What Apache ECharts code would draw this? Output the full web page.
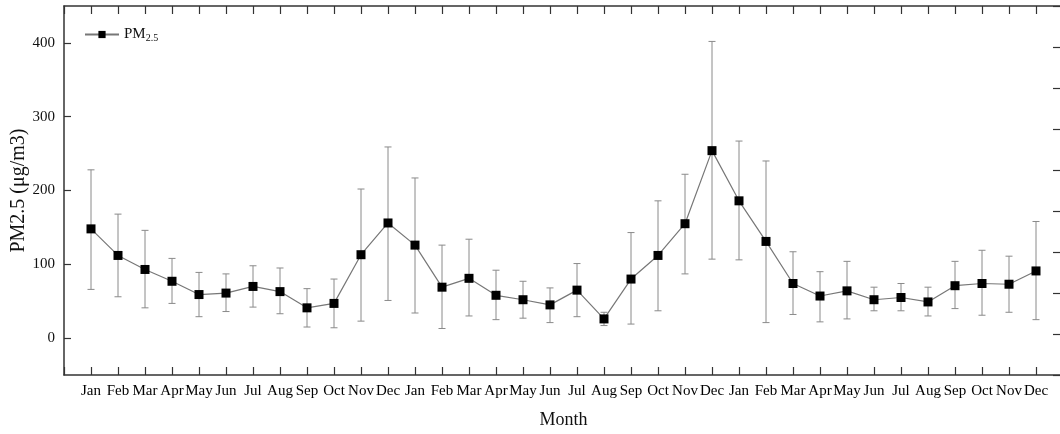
<!DOCTYPE html>
<html><head><meta charset="utf-8">
<script src="https://cdn.jsdelivr.net/npm/echarts@6/dist/echarts.min.js"></script>
<style>html,body{margin:0;padding:0;background:#fff}#c{width:1060px;height:434px}</style>
</head><body><div id="c"></div>
<script>
const months = ['Jan','Feb','Mar','Apr','May','Jun','Jul','Aug','Sep','Oct','Nov','Dec',
  'Jan','Feb','Mar','Apr','May','Jun','Jul','Aug','Sep','Oct','Nov','Dec',
  'Jan','Feb','Mar','Apr','May','Jun','Jul','Aug','Sep','Oct','Nov','Dec'];
const pmMean = [148,112,93,77,59,61,70,63,41,47,113,156,
  126,69,81,58,52,45,65,26,80,112,155,254,
  186,131,74,57,64,52,55,49,71,74,73,91];
const errHigh = [228,168,146,108,89,87,98,95,67,80,202,259,
  217,126,134,92,77,68,101,35,143,186,222,402,
  267,240,117,90,104,69,74,69,104,119,111,158];
const errLow = [66,56,41,47,29,36,42,33,15,14,23,51,
  34,13,30,25,27,21,29,17,19,37,87,107,
  106,21,32,22,26,37,37,30,40,31,35,25];
const yTicks = [0,100,200,300,400];

const font = 'Liberation Serif';
const lineData = pmMean.map((v,i)=>[i,v]);
const errData = pmMean.map((v,i)=>[i,errLow[i],errHigh[i]]);

const chart = echarts.init(document.getElementById('c'));
chart.setOption({
  animation:false,
  textStyle:{fontFamily:font},
  grid:{left:64,right:-3,top:6,bottom:59,outerBoundsMode:'none',containLabel:false},
  legend:{
    left:79, top:22, itemWidth:34, itemHeight:9, itemGap:0,
    data:[{name:'PM2.5'}],
    formatter:()=> 'PM{sub|2.5}',
    textStyle:{fontFamily:font,fontSize:15,color:'#111',
      rich:{sub:{fontFamily:font,fontSize:10,color:'#111',padding:[7,0,0,0]}}}
  },
  xAxis:[{
    type:'value', min:-1, max:36, interval:1, position:'bottom',
    name:'Month', nameLocation:'middle', nameGap:36,
    nameTextStyle:{fontFamily:font,fontSize:18,color:'#111'},
    axisLine:{onZero:false,lineStyle:{color:'#333',width:1.5}},
    axisTick:{inside:true,length:8,lineStyle:{color:'#333',width:1.2}},
    axisLabel:{margin:9,fontFamily:font,fontSize:15,color:'#000',
      formatter:v=> (v>=0 && v<months.length && Number.isInteger(v)) ? months[v] : ''},
    splitLine:{show:false}
  },{
    type:'value', min:-1, max:36, interval:1, position:'top',
    axisLine:{onZero:false,lineStyle:{color:'#333',width:1.5}},
    axisTick:{inside:true,length:8,lineStyle:{color:'#333',width:1.2}},
    axisLabel:{show:false}, splitLine:{show:false}
  }],
  yAxis:[{
    type:'value', min:-50, max:450, splitNumber:5, position:'left',
    name:'PM2.5 (μg/m3)', nameLocation:'middle', nameGap:35, nameMoveOverlap:false,
    nameTextStyle:{fontFamily:font,fontSize:20,color:'#111'},
    axisLine:{show:true,onZero:false,lineStyle:{color:'#333',width:1.5}},
    axisTick:{inside:true,length:7,lineStyle:{color:'#333',width:1.2}},
    axisLabel:{margin:9,fontFamily:font,fontSize:15,color:'#111',
      showMinLabel:false, showMaxLabel:false,
      formatter:v=> yTicks.includes(v) ? String(v) : ''},
    splitLine:{show:false}
  },{
    type:'value', min:-1, max:8, interval:1, position:'right',
    axisLine:{show:true,onZero:false,lineStyle:{color:'#333',width:1.5}},
    axisTick:{inside:true,length:10,lineStyle:{color:'#333',width:1.2}},
    axisLabel:{show:false}, splitLine:{show:false}
  }],
  series:[{
    type:'custom', name:'err', xAxisIndex:0, yAxisIndex:0, z:1,
    renderItem:(params, api)=>{
      const x = api.value(0);
      const lo = api.coord([x, api.value(1)]);
      const hi = api.coord([x, api.value(2)]);
      const cap = 3.5;
      const st = {stroke:'#8a8a8a', lineWidth:1};
      return {type:'group', children:[
        {type:'line', shape:{x1:lo[0],y1:lo[1],x2:hi[0],y2:hi[1]}, style:st},
        {type:'line', shape:{x1:lo[0]-cap,y1:lo[1],x2:lo[0]+cap,y2:lo[1]}, style:st},
        {type:'line', shape:{x1:hi[0]-cap,y1:hi[1],x2:hi[0]+cap,y2:hi[1]}, style:st}
      ]};
    },
    encode:{x:0,y:[1,2]},
    data:errData
  },{
    type:'line', name:'PM2.5', xAxisIndex:0, yAxisIndex:0, z:3,
    data:lineData, symbol:'rect', symbolSize:9,
    itemStyle:{color:'#000'},
    lineStyle:{color:'#777',width:1.2}
  }]
});
</script></body></html>
